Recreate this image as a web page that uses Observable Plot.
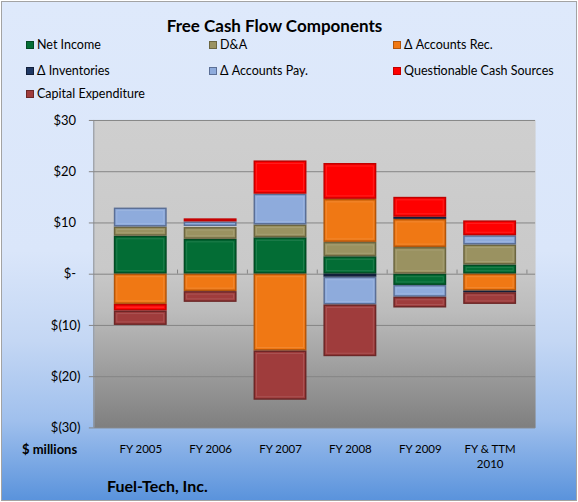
<!DOCTYPE html>
<html>
<head>
<meta charset="utf-8">
<script src="https://cdn.jsdelivr.net/npm/d3@7"></script>
<script src="https://cdn.jsdelivr.net/npm/@observablehq/plot@0.6"></script>
<style>
  html, body { margin: 0; padding: 0; background: #fff; }
  #box {
    position: absolute; left: 1px; top: 1px; width: 574px; height: 498px;
    border: 1px solid #a3a3a3;
    background: linear-gradient(to bottom, #dee9fb 0%, #dae6fa 50%, #c4d7f4 68%, #a0c0ed 84%, #5a93dc 100%);
    font-family: Lato, "Open Sans", sans-serif; color: #000;
    overflow: hidden;
  }
  #title { position: absolute; left: 0; width: 545px; top: 13px; text-align: center; font-weight: bold; font-size: 17px; }
  .leg { position: absolute; font-size: 12.5px; white-space: nowrap; line-height: 14px; }
  .sw { display: inline-block; width: 8px; height: 8px; margin-right: 3px; vertical-align: 0px; box-sizing: border-box; border: 1px solid rgba(0,0,0,0.35); }
  #chart { position: absolute; left: -3px; top: 97px; }
  #units { position: absolute; left: 20px; top: 439px; font-weight: bold; font-size: 13px; }
  #company { position: absolute; left: 105px; top: 474px; font-weight: bold; font-size: 16px; }
</style>
</head>
<body>
<div id="box">
  <div id="title">Free Cash Flow Components</div>
  <div id="legend"></div>
  <div id="chart"></div>
  <div id="units">$ millions</div>
  <div id="company">Fuel-Tech, Inc.</div>
</div>
<script>
// ---- data ($ millions) ----
const years = ["FY 2005", "FY 2006", "FY 2007", "FY 2008", "FY 2009", "FY & TTM\n2010"];
const seriesNames = ["Net Income", "D&A", "Δ Accounts Rec.", "Δ Inventories", "Δ Accounts Pay.", "Questionable Cash Sources", "Capital Expenditure"];
const netIncome    = [7.4, 6.8, 7.1, 3.4, -2.2, 1.8];
const dna          = [1.8, 2.3, 2.5, 2.8, 5.2, 3.9];
const accountsRec  = [-5.9, -3.4, -15.0, 8.4, 5.5, -3.3];
const inventories  = [0, 0.2, 0, -0.6, 0.4, -0.3];
const accountsPay  = [3.7, 0.9, 6.0, -5.4, -2.3, 1.8];
const questionable = [-1.3, 0.6, 6.5, 7.0, 3.9, 2.9];
const capex        = [-2.8, -2.1, -9.6, -10.1, -2.1, -2.3];
const yTicks = [-30, -20, -10, 0, 10, 20, 30];

// ---- styling ----
const fills   = ["#036d35", "#9a9261", "#f07814", "#1f3864", "#8eabdc", "#ff0000", "#9f3c3c"];
const strokes = ["#024a23", "#6c6641", "#b2560c", "#121f3a", "#5b6f96", "#c20000", "#6c2727"];

const seriesValues = [netIncome, dna, accountsRec, inventories, accountsPay, questionable, capex];
const rows = years.flatMap((yr, i) =>
  seriesNames.map((s, k) => ({year: yr, series: s, value: seriesValues[k][i], k}))
);

// legend
const legend = document.getElementById("legend");
const legPos = [[24, 36], [207, 36], [391, 36], [24, 62], [207, 62], [391, 62], [24, 85]];
seriesNames.forEach((s, k) => {
  const d = document.createElement("div");
  d.className = "leg";
  d.style.left = legPos[k][0] + "px";
  d.style.top = legPos[k][1] + "px";
  d.innerHTML = `<span class="sw" style="background:${fills[k]};border-color:${strokes[k]}"></span>`;
  d.appendChild(document.createTextNode(s));
  legend.appendChild(d);
});

const W = 578, H = 400;
const mL = 95, mR = 41, mT = 21, mB = 71;
const step = (W - mL - mR) / years.length;

const fmt = d => d === 0 ? "$-\u2004" : d < 0 ? `$(${-d})` : `$${d}\u2004`;

const defsMark = () => {
  const g = d3.create("svg:g");
  const defs = g.append("defs");
  const lg = defs.append("linearGradient").attr("id", "plotbg").attr("x1", 0).attr("x2", 0).attr("y1", 0).attr("y2", 1);
  [["0%", "#cfcfcf"], ["48%", "#c9c9c9"], ["62%", "#bcbcbc"], ["100%", "#7f7f7f"]]
    .forEach(([o, c]) => lg.append("stop").attr("offset", o).attr("stop-color", c));
  return g.node();
};

const leftLine = (index, scales, values, dims) => {
  const g = d3.create("svg:line")
    .attr("x1", dims.marginLeft).attr("x2", dims.marginLeft)
    .attr("y1", dims.marginTop).attr("y2", dims.height - dims.marginBottom)
    .attr("stroke", "#868686");
  return g.node();
};

const chart = Plot.plot({
  width: W, height: H,
  marginLeft: mL, marginRight: mR, marginTop: mT, marginBottom: mB,
  style: {background: "transparent", fontFamily: "Lato, 'Open Sans', sans-serif", color: "#000", overflow: "visible"},
  x: {domain: years, padding: 0.25, label: null},
  y: {domain: [-30, 30], label: null},
  marks: [
    defsMark,
    Plot.frame({fill: "url(#plotbg)", stroke: "none"}),
    Plot.gridY(yTicks, {stroke: "#858585", strokeOpacity: 1, strokeWidth: 1}),
    Plot.ruleX(years, {x: d => d, y1: 0, y2: 0.8, dx: step / 2, stroke: "#858585"}),
    Plot.barY(rows, Plot.stackY({
      x: "year", y: "value", order: null,
      fill: d => fills[d.k], stroke: d => strokes[d.k], strokeWidth: 1.5,
      inset: 0.75
    })),
    Plot.barY(rows, Plot.stackY({
      x: "year", y: "value", order: null,
      fill: "none", stroke: "#ffffff", strokeOpacity: 0.12, strokeWidth: 1,
      inset: 3
    })),
    leftLine,
    Plot.axisY(yTicks, {tickFormat: fmt, tickSize: 5, tickPadding: 9, fontSize: 13, stroke: "#858585"}),
    Plot.axisX({tickSize: 0, tickPadding: 14, fontSize: 11.5, lineHeight: 1.35})
  ]
});
document.getElementById("chart").appendChild(chart);
</script>
</body>
</html>
